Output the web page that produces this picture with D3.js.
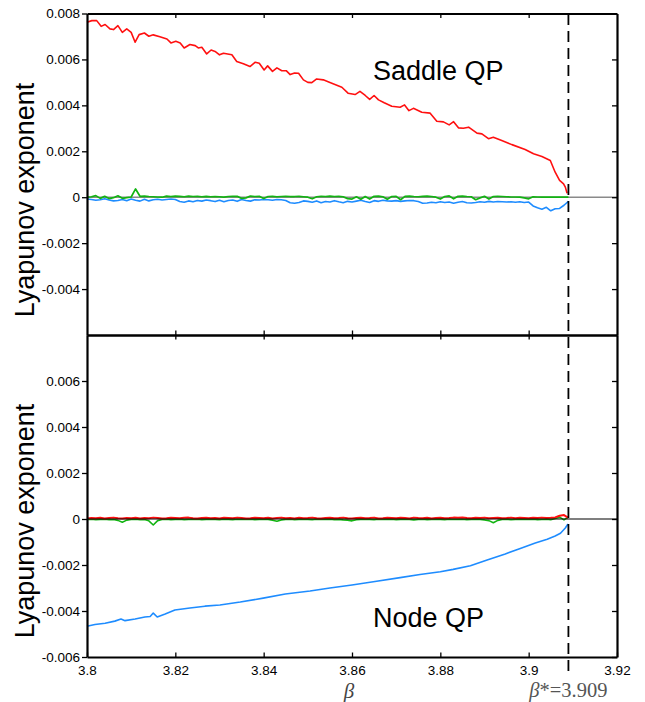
<!DOCTYPE html>
<html>
<head>
<meta charset="utf-8">
<script src="https://cdn.jsdelivr.net/npm/d3@7"></script>
<style>
  body { margin: 0; background: #fff; }
</style>
</head>
<body>
<div id="chart"></div>
<script>
// beta tick labels and y ticks
var betaTicks = [3.8, 3.82, 3.84, 3.86, 3.88, 3.9, 3.92];
var upperTicks = [-0.004, -0.002, 0, 0.002, 0.004, 0.006, 0.008];
var lowerTicks = [-0.006, -0.004, -0.002, 0, 0.002, 0.004, 0.006];
var betaStar = 3.909;

// Saddle QP, largest exponent (red)
var saddleRedBeta = [3.8000,3.8011,3.8022,3.8032,3.8041,3.8052,3.8060,3.8070,3.8080,3.8090,
  3.8100,3.8109,3.8118,3.8130,3.8140,3.8150,3.8165,3.8181,3.8190,3.8201,
  3.8211,3.8220,3.8233,3.8245,3.8252,3.8260,3.8271,3.8281,3.8290,3.8300,
  3.8309,3.8328,3.8339,3.8354,3.8369,3.8381,3.8390,3.8401,3.8409,3.8420,
  3.8430,3.8441,3.8451,3.8460,3.8470,3.8479,3.8490,3.8500,3.8509,3.8520,
  3.8535,3.8550,3.8577,3.8591,3.8607,3.8618,3.8630,3.8640,3.8650,3.8660,
  3.8673,3.8690,3.8709,3.8719,3.8729,3.8739,3.8758,3.8777,3.8792,3.8807,
  3.8820,3.8830,3.8841,3.8852,3.8864,3.8883,3.8894,3.8909,3.8920,3.8939,
  3.8962,3.8992,3.9011,3.9030,3.9049,3.9060,3.9070,3.9079,3.9083,3.9087];
var saddleRed = [0.00762,0.00769,0.00769,0.00744,0.00752,0.00733,0.00730,0.00747,0.00718,0.00733,
  0.00718,0.00675,0.00708,0.00715,0.00701,0.00707,0.00699,0.00689,0.00672,0.00679,
  0.00672,0.00650,0.00665,0.00660,0.00650,0.00653,0.00624,0.00641,0.00635,0.00620,
  0.00627,0.00620,0.00591,0.00581,0.00569,0.00588,0.00583,0.00554,0.00572,0.00548,
  0.00563,0.00551,0.00551,0.00534,0.00541,0.00540,0.00511,0.00500,0.00499,0.00515,
  0.00511,0.00500,0.00479,0.00453,0.00447,0.00461,0.00443,0.00426,0.00443,0.00424,
  0.00411,0.00396,0.00392,0.00402,0.00377,0.00387,0.00370,0.00366,0.00331,0.00328,
  0.00315,0.00329,0.00302,0.00300,0.00305,0.00279,0.00276,0.00255,0.00261,0.00247,
  0.00229,0.00208,0.00189,0.00177,0.00160,0.00109,0.00073,0.00058,0.00044,0.00017];

// common beta grid for the near-zero exponents
var betaGrid = [3.800,3.801,3.802,3.803,3.804,3.805,3.806,3.807,3.808,3.809,
  3.810,3.811,3.812,3.813,3.814,3.815,3.816,3.817,3.818,3.819,
  3.820,3.821,3.822,3.823,3.824,3.825,3.826,3.827,3.828,3.829,
  3.830,3.831,3.832,3.833,3.834,3.835,3.836,3.837,3.838,3.839,
  3.840,3.841,3.842,3.843,3.844,3.845,3.846,3.847,3.848,3.849,
  3.850,3.851,3.852,3.853,3.854,3.855,3.856,3.857,3.858,3.859,
  3.860,3.861,3.862,3.863,3.864,3.865,3.866,3.867,3.868,3.869,
  3.870,3.871,3.872,3.873,3.874,3.875,3.876,3.877,3.878,3.879,
  3.880,3.881,3.882,3.883,3.884,3.885,3.886,3.887,3.888,3.889,
  3.890,3.891,3.892,3.893,3.894,3.895,3.896,3.897,3.898,3.899,
  3.900,3.901,3.902,3.903,3.904,3.905,3.906,3.907,3.908,3.909];

var saddleGreen = [0,0.00002,0.00007,-0.00005,0.00004,-0.00006,-0.00002,0.00006,-0.00005,-0.00002,
  0.00001,0.00036,0.00004,0.00005,0.00003,0.00002,0.00001,0,0.00005,0.00003,
  0.00005,0.00004,0.00002,0.00005,0.00003,0.00004,0.00002,0.00004,0.00002,0.00003,
  0.00002,0,0.00003,0.00004,0.00004,-0.00005,-0.00003,0.00005,0.00003,0.00004,
  -0.00006,0.00003,0.00004,0.00002,0.00003,0.00004,0.00003,0.00003,0.00004,0.00002,
  0,-0.00007,0.00002,0.00004,0.00003,0.00005,0.00003,0.00004,0.00002,-0.00006,
  -0.00008,0.00002,-0.00009,0.00003,-0.00008,0.00004,0.00005,0.00002,-0.00009,0.00003,
  0.00004,-0.00011,0.00004,0.00005,0.00003,0.00002,0.00004,0.00005,0.00003,0,
  -0.00008,0.00003,0.00006,-0.00007,0.00004,0.00005,0.00003,0.00002,-0.00011,-0.00003,
  0.00004,-0.00008,0.00003,0.00004,0.00003,0.00002,0.00001,0.00001,0,-0.00003,
  -0.00007,0.00002,0.00001,0,0.00001,0,0,0,0,0];

var saddleBlue = [-0.00008,-0.00010,-0.00013,-0.00011,-0.00007,-0.00012,-0.00016,-0.00014,-0.00010,-0.00015,
  -0.00008,-0.00013,-0.00017,-0.00009,-0.00016,-0.00011,-0.00009,-0.00012,-0.00010,-0.00008,
  -0.00010,-0.00019,-0.00022,-0.00016,-0.00020,-0.00014,-0.00017,-0.00012,-0.00015,-0.00019,
  -0.00013,-0.00020,-0.00014,-0.00012,-0.00018,-0.00010,-0.00014,-0.00017,-0.00011,-0.00012,
  -0.00010,-0.00011,-0.00013,-0.00010,-0.00011,-0.00014,-0.00024,-0.00026,-0.00023,-0.00016,
  -0.00018,-0.00022,-0.00016,-0.00024,-0.00019,-0.00021,-0.00015,-0.00020,-0.00024,-0.00018,
  -0.00021,-0.00017,-0.00013,-0.00019,-0.00023,-0.00015,-0.00018,-0.00013,-0.00016,-0.00017,
  -0.00015,-0.00018,-0.00016,-0.00014,-0.00015,-0.00019,-0.00026,-0.00025,-0.00022,-0.00024,
  -0.00020,-0.00023,-0.00021,-0.00026,-0.00022,-0.00019,-0.00024,-0.00025,-0.00023,-0.00020,
  -0.00022,-0.00018,-0.00021,-0.00019,-0.00020,-0.00021,-0.00020,-0.00022,-0.00020,-0.00023,
  -0.00021,-0.00038,-0.00046,-0.00052,-0.00044,-0.00059,-0.00050,-0.00049,-0.00035,-0.00018];

// Node QP
var nodeRed = [0.00002,0.00004,0.00003,0.00005,0.00002,0.00004,0.00006,0.00003,0.00002,0.00004,
  0.00003,0.00005,0.00002,0.00004,0.00003,0.00006,0.00004,0.00002,0.00003,0.00005,
  0.00004,0.00003,0.00005,0.00006,0.00003,0.00002,0.00004,0.00005,0.00003,0.00004,
  0.00002,0.00005,0.00004,0.00003,0.00006,0.00004,0.00002,0.00003,0.00005,0.00004,
  0.00003,0.00005,0.00002,0.00004,0.00006,0.00003,0.00004,0.00002,0.00005,0.00003,
  0.00004,0.00006,0.00003,0.00002,0.00004,0.00005,0.00003,0.00004,0.00006,0.00003,
  0.00002,0.00004,0.00005,0.00003,0.00004,0.00006,0.00002,0.00003,0.00005,0.00004,
  0.00003,0.00005,0.00004,0.00002,0.00006,0.00004,0.00003,0.00005,0.00002,0.00004,
  0.00005,0.00003,0.00004,0.00006,0.00005,0.00007,0.00004,0.00003,0.00005,0.00004,
  0.00006,0.00003,0.00004,0.00005,0.00003,0.00004,0.00006,0.00003,0.00005,0.00004,
  0.00003,0.00005,0.00004,0.00006,0.00004,0.00005,0.00007,0.00014,0.00017,0.00005];

var nodeGreen = [-0.00002,-0.00001,-0.00003,-0.00002,-0.00001,-0.00003,-0.00002,-0.00006,-0.00014,-0.00005,
  -0.00002,-0.00001,-0.00003,-0.00002,-0.00008,-0.00026,-0.00007,-0.00002,-0.00001,-0.00003,
  -0.00002,-0.00001,-0.00003,-0.00002,-0.00002,-0.00001,-0.00003,-0.00002,-0.00001,-0.00002,
  -0.00003,-0.00001,-0.00002,-0.00003,-0.00001,-0.00002,-0.00002,-0.00001,-0.00003,-0.00002,
  -0.00001,-0.00002,-0.00005,-0.00010,-0.00004,-0.00002,-0.00001,-0.00003,-0.00002,-0.00001,
  -0.00002,-0.00003,-0.00001,-0.00002,-0.00002,-0.00001,-0.00003,-0.00002,-0.00004,-0.00005,
  -0.00008,-0.00003,-0.00002,-0.00001,-0.00002,-0.00003,-0.00001,-0.00002,-0.00002,-0.00001,
  -0.00003,-0.00002,-0.00001,-0.00002,-0.00004,-0.00002,-0.00001,-0.00003,-0.00002,-0.00001,
  -0.00002,-0.00003,-0.00001,-0.00002,-0.00002,-0.00001,-0.00003,-0.00002,-0.00001,-0.00002,
  -0.00004,-0.00007,-0.00016,-0.00006,-0.00002,-0.00001,-0.00003,-0.00002,-0.00001,-0.00002,
  -0.00002,-0.00001,-0.00003,-0.00002,-0.00001,-0.00003,0.00002,0.00008,-0.00004,0.00009];

var nodeBlueBeta = [3.8000,3.8018,3.8041,3.8063,3.8077,3.8086,3.8109,3.8131,3.8143,3.8150,
  3.8159,3.8177,3.8199,3.8233,3.8267,3.8301,3.8347,3.8399,3.8449,3.8505,
  3.8550,3.8600,3.8652,3.8709,3.8754,3.8800,3.8829,3.8868,3.8906,3.8947,
  3.8981,3.9015,3.9042,3.9060,3.9072,3.9083,3.9089];
var nodeBlue = [-0.00466,-0.00459,-0.00453,-0.00444,-0.00435,-0.00442,-0.00435,-0.00426,-0.00424,-0.00409,
  -0.00426,-0.00413,-0.00396,-0.00387,-0.00379,-0.00374,-0.00361,-0.00344,-0.00326,-0.00313,
  -0.00300,-0.00287,-0.00272,-0.00255,-0.00241,-0.00229,-0.00219,-0.00203,-0.00178,-0.00152,
  -0.00128,-0.00104,-0.00088,-0.00074,-0.00062,-0.00039,-0.00022];

var RED = '#ff1010', GREEN = '#12b312', BLUE = '#1e8cff';
var tickFont = 'Arial, "Liberation Sans", sans-serif';

var svg = d3.select('#chart').append('svg')
  .attr('width', 645)
  .attr('height', 702);

var x = d3.scaleLinear().domain([3.8, 3.92]).range([87, 617]);
var yTop = d3.scaleLinear().domain([-0.006, 0.008]).range([335, 13.5]);
var yBot = d3.scaleLinear().domain([-0.006, 0.008]).range([657, 335]);

function zip(a, b) { return a.map(function(v, i) { return [v, b[i]]; }); }

function yFmt(v) { return v === 0 ? '0' : v.toFixed(3); }

function styleAxis(g) {
  g.attr('font-family', tickFont).attr('font-size', 13.5);
  g.select('.domain').attr('stroke', '#000').attr('stroke-width', 2.2);
  g.selectAll('.tick line').attr('stroke', '#000').attr('stroke-width', 1.3);
  g.selectAll('.tick text').attr('fill', '#000');
}

function drawPanel(y, ticks, showBottomLabels) {
  svg.append('g').attr('transform', 'translate(87,0)')
    .call(d3.axisLeft(y).tickValues(ticks).tickFormat(yFmt).tickSize(5).tickSizeOuter(0).tickPadding(2))
    .call(styleAxis);
  svg.append('g').attr('transform', 'translate(617,0)')
    .call(d3.axisRight(y).tickValues(ticks).tickFormat('').tickSize(-5).tickSizeOuter(0))
    .call(styleAxis);
  var top = y.range()[1], bot = y.range()[0];
  svg.append('g').attr('transform', 'translate(0,' + top + ')')
    .call(d3.axisTop(x).tickValues(betaTicks.slice(1, -1)).tickFormat('').tickSize(-4.5).tickSizeOuter(0))
    .call(styleAxis);
  svg.append('g').attr('transform', 'translate(0,' + bot + ')')
    .call(d3.axisBottom(x).tickValues(showBottomLabels ? betaTicks : betaTicks.slice(1, -1))
      .tickFormat(showBottomLabels ? function(v) { return String(+v.toFixed(2)); } : '')
      .tickSize(-4.5).tickSizeOuter(0).tickPadding(8))
    .call(styleAxis);
}

function drawLine(y, data, color, width) {
  svg.append('path')
    .datum(data)
    .attr('fill', 'none')
    .attr('stroke', color)
    .attr('stroke-width', width || 1.6)
    .attr('stroke-linejoin', 'round')
    .attr('d', d3.line().x(function(d) { return x(d[0]); }).y(function(d) { return y(d[1]); }));
}

// upper panel: Saddle QP
svg.append('line')
  .attr('x1', 87).attr('x2', 617)
  .attr('y1', yTop(0)).attr('y2', yTop(0))
  .attr('stroke', '#8a8a8a').attr('stroke-width', 1.6);
drawLine(yTop, zip(betaGrid, saddleBlue), BLUE);
drawLine(yTop, zip(betaGrid, saddleGreen), GREEN, 1.7);
drawLine(yTop, zip(saddleRedBeta, saddleRed), RED);

// lower panel: Node QP
drawLine(yBot, zip(nodeBlueBeta, nodeBlue), BLUE);
drawLine(yBot, zip(betaGrid, nodeGreen), GREEN);
drawLine(yBot, zip(betaGrid, nodeRed), RED, 2);
svg.append('line')
  .attr('x1', 87).attr('x2', 617)
  .attr('y1', yBot(0)).attr('y2', yBot(0))
  .attr('stroke', '#000').attr('stroke-width', 1.1);

drawPanel(yTop, upperTicks, false);
drawPanel(yBot, lowerTicks, true);

// critical beta
svg.append('line')
  .attr('x1', x(betaStar)).attr('x2', x(betaStar))
  .attr('y1', 14).attr('y2', 674)
  .attr('stroke', '#000').attr('stroke-width', 1.8)
  .attr('stroke-dasharray', '11,6');

// panel labels
svg.append('text').attr('x', 373).attr('y', 80)
  .attr('font-family', tickFont).attr('font-size', 27)
  .text('Saddle QP');
svg.append('text').attr('x', 373).attr('y', 627)
  .attr('font-family', tickFont).attr('font-size', 27)
  .text('Node QP');

// y labels
[200, 521].forEach(function(cy) {
  svg.append('text')
    .attr('transform', 'translate(33.5,' + cy + ') rotate(-90)')
    .attr('text-anchor', 'middle')
    .attr('font-family', tickFont).attr('font-size', 27)
    .text('Lyapunov exponent');
});

// x labels
svg.append('text').attr('x', 349).attr('y', 698)
  .attr('text-anchor', 'middle')
  .attr('font-family', '"Liberation Serif", "DejaVu Serif", serif')
  .attr('font-style', 'italic').attr('font-size', 21).attr('fill', '#444')
  .text('β');

var bs = svg.append('text').attr('x', x(betaStar)).attr('y', 697)
  .attr('text-anchor', 'middle')
  .attr('font-family', '"Liberation Serif", "DejaVu Serif", serif')
  .attr('font-size', 20.5).attr('fill', '#555');
bs.append('tspan').attr('font-style', 'italic').text('β');
bs.append('tspan').text('*=3.909');
</script>
</body>
</html>
